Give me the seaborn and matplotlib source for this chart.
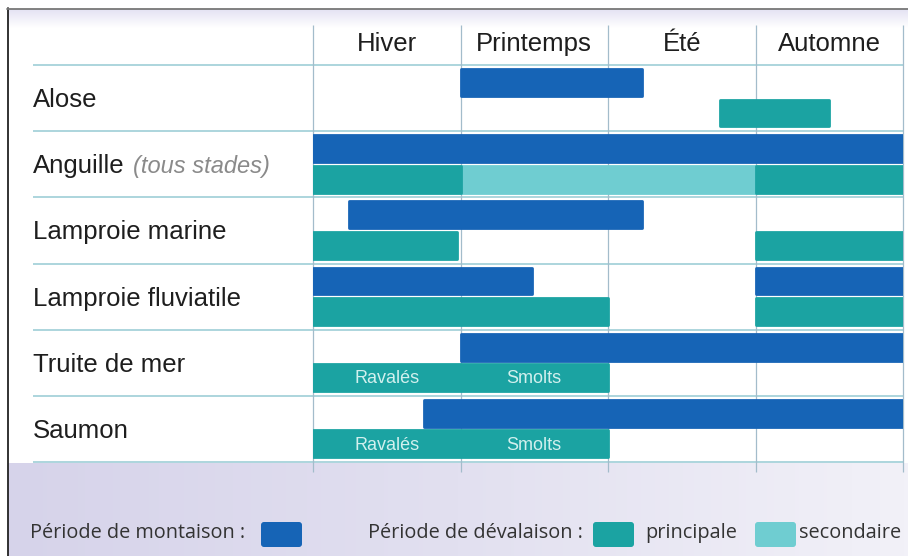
import numpy as np
import matplotlib
matplotlib.use("Agg")
import matplotlib.pyplot as plt
from matplotlib.patches import FancyBboxPatch
from matplotlib.colors import LinearSegmentedColormap
import seaborn as sns

# ---------------- data ----------------
seasons = ["Hiver", "Printemps", "Été", "Automne"]
species = ["Alose", "Anguille", "Lamproie marine", "Lamproie fluviatile",
           "Truite de mer", "Saumon"]

# montaison (upstream migration) – months counted from start of winter
mont_species = [0, 1, 2, 3, 3, 4, 5]
mont_start = [3.0, 0.0, 0.73, 0.0, 9.0, 3.0, 2.26]
mont_end = [6.7, 12.0, 6.7, 4.45, 12.0, 12.0, 12.0]

# dévalaison principale
devp_species = [0, 1, 1, 2, 2, 3, 3, 4, 5]
devp_start = [8.28, 0.0, 9.0, 0.0, 9.0, 0.0, 9.0, 0.0, 0.0]
devp_end = [10.5, 3.0, 12.0, 2.93, 12.0, 6.0, 12.0, 6.0, 6.0]

# dévalaison secondaire
devs_species = [1]
devs_start = [3.0]
devs_end = [9.0]

stage_labels = ["Ravalés", "Smolts"]
stage_pos = [1.5, 4.5]
stage_species = [4, 5]

legend_texts = ["Période de montaison :", "Période de dévalaison :",
                "principale", "secondaire"]

# ---------------- style ----------------
sns.set_theme(style="white")
plt.rcParams["font.family"] = ["Liberation Sans", "DejaVu Sans"]

BLUE = "#1664b6"
TEAL = "#1ba3a2"
LIGHT = "#6fcdd1"
VLINE = "#a3bccb"
HLINE = "#a6d2da"
TXT = "#1e1e1e"

W, H = 908, 556
fig = plt.figure(figsize=(W / 100, H / 100), dpi=100)
fig.patch.set_facecolor("white")

# background axes in pixel coordinates
bg = fig.add_axes([0, 0, 1, 1])
bg.set_xlim(0, W)
bg.set_ylim(H, 0)
bg.axis("off")

lav = LinearSegmentedColormap.from_list("lav", ["#d6d3ea", "#e2e0f0", "#f2f1f8"])
grad = np.linspace(0, 1, 256)[None, :]
bg.imshow(grad, cmap=lav, extent=[8, W, H, 463], aspect="auto", zorder=0)
top = LinearSegmentedColormap.from_list("top", ["#e4e2f3", "#ffffff"])
bg.imshow(np.linspace(0, 1, 64)[:, None], cmap=top, extent=[8, W, 28, 9],
          aspect="auto", zorder=0)
bg.plot([7.5, 7.5], [8, H], color="#222222", lw=1.3, zorder=1)
bg.plot([7, W], [8.5, 8.5], color="#777777", lw=1.3, zorder=1)

# legend
lfont = ["Open Sans", "DejaVu Sans"]
lsize = 14.3
for txt, x0 in zip(legend_texts, [30, 368, 645, 799]):
    bg.text(x0, 533, txt, fontsize=lsize, color="#333333",
            family=lfont, va="center", ha="left")
for x0, col in [(261, BLUE), (593, TEAL), (755, LIGHT)]:
    bg.add_patch(FancyBboxPatch((x0, 522), 41, 25,
                                boxstyle="round,pad=0,rounding_size=3",
                                fc=col, ec="none", zorder=2))

# main chart axes
L, R, T, B = 313, 903, 65, 462
ax = fig.add_axes([L / W, 1 - B / H, (R - L) / W, (B - T) / H])
ax.set_xlim(0, 12)
ax.set_ylim(len(species), 0)
ax.axis("off")
ax.patch.set_alpha(0)

px_per_month = (R - L) / 12
label_x = -(L - 33) / px_per_month

# grid lines
ax.hlines(np.arange(len(species) + 1), label_x, 12, color=HLINE, lw=1.3,
          clip_on=False, zorder=1)
ax.vlines(np.arange(0, 13, 3), -0.6, len(species) + 0.15, color=VLINE, lw=0.9,
          clip_on=False, zorder=1)

# bars
hbar = 0.405
up_off, low_off = 0.265, 0.725
rows = np.array(mont_species)
ax.barh(rows + up_off, np.array(mont_end) - np.array(mont_start),
        left=mont_start, height=hbar, color=BLUE, edgecolor=BLUE,
        linewidth=2.0, joinstyle="round", zorder=3)
rows = np.array(devs_species)
ax.barh(rows + low_off, np.array(devs_end) - np.array(devs_start),
        left=devs_start, height=hbar, color=LIGHT, edgecolor=LIGHT,
        linewidth=2.0, joinstyle="round", zorder=3)
rows = np.array(devp_species)
ax.barh(rows + low_off, np.array(devp_end) - np.array(devp_start),
        left=devp_start, height=hbar, color=TEAL, edgecolor=TEAL,
        linewidth=2.0, joinstyle="round", zorder=4)

# stage labels inside bars
for sp in stage_species:
    for lab, xp in zip(stage_labels, stage_pos):
        ax.text(xp, sp + low_off + 0.02, lab, ha="center", va="center",
                fontsize=13, color="#d2f0ee", zorder=5)

# season headers
for k, s in enumerate(seasons):
    ax.text(1.5 + 3 * k, -0.31, s, ha="center", va="center",
            fontsize=18.5, color=TXT, clip_on=False)

# species labels
for i, s in enumerate(species):
    t = ax.text(label_x, i + 0.53, s, ha="left", va="center",
                fontsize=18.5, color=TXT, clip_on=False)
    if s == "Anguille":
        ax.annotate("(tous stades)", xy=(1, 0), xycoords=t,
                    xytext=(6, 0), textcoords="offset points",
                    ha="left", va="bottom", fontsize=17, style="italic",
                    color="#8a8a8a")

fig.savefig("out.png", dpi=100)
